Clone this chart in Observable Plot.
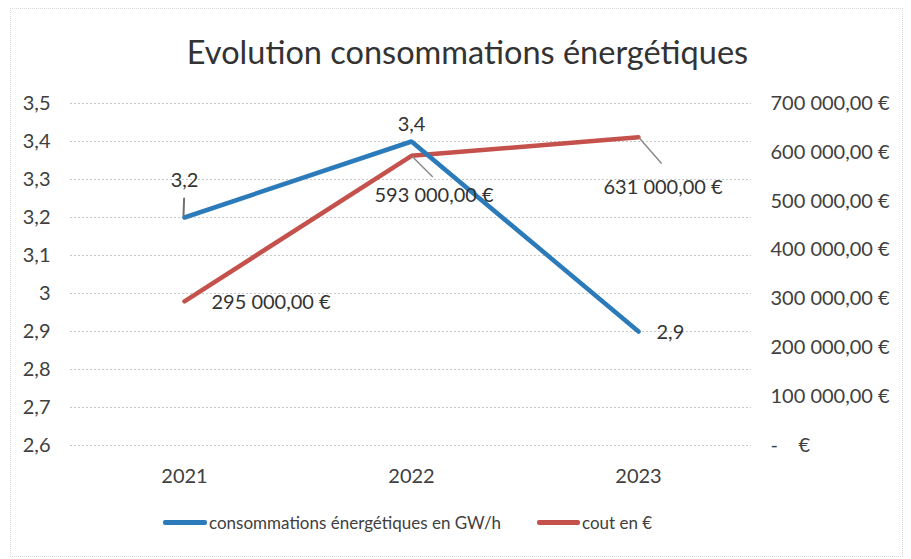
<!DOCTYPE html>
<html>
<head>
<meta charset="utf-8">
<script src="https://cdn.jsdelivr.net/npm/d3@7"></script>
<script src="https://cdn.jsdelivr.net/npm/@observablehq/plot@0.6"></script>
<style>
  html, body { margin: 0; padding: 0; background: #fff; }
  #wrap { position: relative; width: 911px; height: 559px; overflow: hidden; font-family: Lato, "Open Sans", sans-serif; color: #404040; }
  #frame { position: absolute; left: 10px; top: 8px; width: 893px; height: 549px; border: 1px dotted #d8d8d8; box-sizing: border-box; }
  #title { position: absolute; left: 12px; width: 911px; top: 29px; text-align: center; font-size: 32.5px; line-height: 46px; color: #333; }
  #chart { position: absolute; left: 0; top: 80px; }
  #legend { position: absolute; top: 508px; left: 0; width: 911px; height: 28px; font-size: 17px; color: #404040; }
  .item { position: absolute; top: 0; display: flex; align-items: center; height: 28px; }
  .sw { display: inline-block; height: 5px; border-radius: 2px; margin-right: 2px; }
</style>
</head>
<body>
<div id="wrap">
  <div id="frame"></div>
  <div id="title">Evolution consommations énergétiques</div>
  <div id="chart"></div>
  <div id="legend"></div>
</div>
<script>
const years = ["2021", "2022", "2023"];
const conso = [3.2, 3.4, 2.9];
const cout = [295000, 593000, 631000];
const leftTicks = [2.6, 2.7, 2.8, 2.9, 3.0, 3.1, 3.2, 3.3, 3.4, 3.5];
const rightTicks = [0, 100000, 200000, 300000, 400000, 500000, 600000, 700000];
const seriesNames = ["consommations énergétiques en GW/h", "cout en €"];
const colors = ["#2b7bba", "#c4514b"];

const leftMin = 2.6, leftMax = 3.5, rightMax = 700000;
const toLeft = v => leftMin + (v / rightMax) * (leftMax - leftMin);
const fromLeft = y => Math.round((y - leftMin) / (leftMax - leftMin) * rightMax);

const locale = d3.formatLocale({decimal: ",", thousands: "\u00a0", grouping: [3], currency: ["", "\u00a0€"]});
const fmtEur = v => v === 0 ? "-\u00a0\u00a0\u00a0\u00a0€" : locale.format("$,.2f")(v);
const fmtNum = v => String(v).replace(".", ",");

const rows = years.map((y, i) => ({year: y, conso: conso[i], cout: cout[i]}));
const pick = i => [rows[i]];

const leader = {
  draw(context, l) { context.moveTo(0, 0); context.lineTo(0, -l); }
};

const FONT = "Lato, 'Open Sans', sans-serif";
const labelFont = {fontSize: 20, fill: "#333", fontFamily: FONT};

const plot = Plot.plot({
  width: 911,
  height: 410,
  marginLeft: 70,
  marginRight: 160,
  marginTop: 23,
  marginBottom: 45,
  style: {fontFamily: FONT, fontSize: "19px", color: "#404040", background: "transparent"},
  x: {type: "point", domain: years, padding: 0.5, label: null},
  y: {domain: [leftMin, leftMax], label: null},
  marks: [
    Plot.gridY(leftTicks, {stroke: "#c8c8c8", strokeOpacity: 1, strokeDasharray: "2,2", strokeWidth: 1}),
    Plot.axisY(leftTicks, {anchor: "left", tickSize: 0, tickPadding: 20, tickFormat: fmtNum, fontSize: 20, label: null}),
    Plot.axisY(rightTicks.map(toLeft), {anchor: "right", tickSize: 0, tickPadding: 19, textAnchor: "start", tickFormat: d => fmtEur(fromLeft(d)), fontSize: 20, label: null}),
    Plot.axisX(years, {anchor: "bottom", tickSize: 0, tickPadding: 23, fontSize: 20, label: null}),
    Plot.line(rows, {x: "year", y: d => toLeft(d.cout), stroke: colors[1], strokeWidth: 4.5, strokeLinejoin: "miter"}),
    Plot.line(rows, {x: "year", y: "conso", stroke: colors[0], strokeWidth: 4.5, strokeLinejoin: "miter"}),
    // leader lines
    Plot.vector(pick(0), {x: "year", y: "conso", dx: -1, dy: -2, length: 17, rotate: 2, anchor: "start", shape: leader, stroke: "#6f6f6f", strokeWidth: 2}),
    Plot.vector(pick(1), {x: "year", y: d => toLeft(d.cout), dx: 1, dy: 1, length: 28, rotate: 135, anchor: "start", shape: leader, stroke: "#8a8a8a", strokeWidth: 1.5}),
    Plot.vector(pick(2), {x: "year", y: d => toLeft(d.cout), dx: 1, dy: 1, length: 33, rotate: 139, anchor: "start", shape: leader, stroke: "#8a8a8a", strokeWidth: 1.5}),
    // consumption labels
    Plot.text(pick(0), {x: "year", y: "conso", text: d => fmtNum(d.conso), dy: -37, ...labelFont}),
    Plot.text(pick(1), {x: "year", y: "conso", text: d => fmtNum(d.conso), dy: -17, ...labelFont}),
    Plot.text(pick(2), {x: "year", y: "conso", text: d => fmtNum(d.conso), dx: 18, dy: 1, textAnchor: "start", ...labelFont}),
    // cost labels
    Plot.text(pick(0), {x: "year", y: d => toLeft(d.cout), text: d => fmtEur(d.cout), dx: 27, dy: 1, textAnchor: "start", ...labelFont}),
    Plot.text(pick(1), {x: "year", y: d => toLeft(d.cout), text: d => fmtEur(d.cout), dx: -37, dy: 40, textAnchor: "start", ...labelFont}),
    Plot.text(pick(2), {x: "year", y: d => toLeft(d.cout), text: d => fmtEur(d.cout), dx: -35, dy: 50, textAnchor: "start", ...labelFont})
  ]
});
document.getElementById("chart").appendChild(plot);

const legend = document.getElementById("legend");
const legendPos = [[163, 44], [537, 43]];
seriesNames.forEach((name, i) => {
  const item = document.createElement("div");
  item.className = "item";
  item.style.left = legendPos[i][0] + "px";
  const sw = document.createElement("span");
  sw.className = "sw";
  sw.style.width = legendPos[i][1] + "px";
  sw.style.background = colors[i];
  item.appendChild(sw);
  const t = document.createElement("span");
  t.textContent = name;
  item.appendChild(t);
  legend.appendChild(item);
});
</script>
</body>
</html>
